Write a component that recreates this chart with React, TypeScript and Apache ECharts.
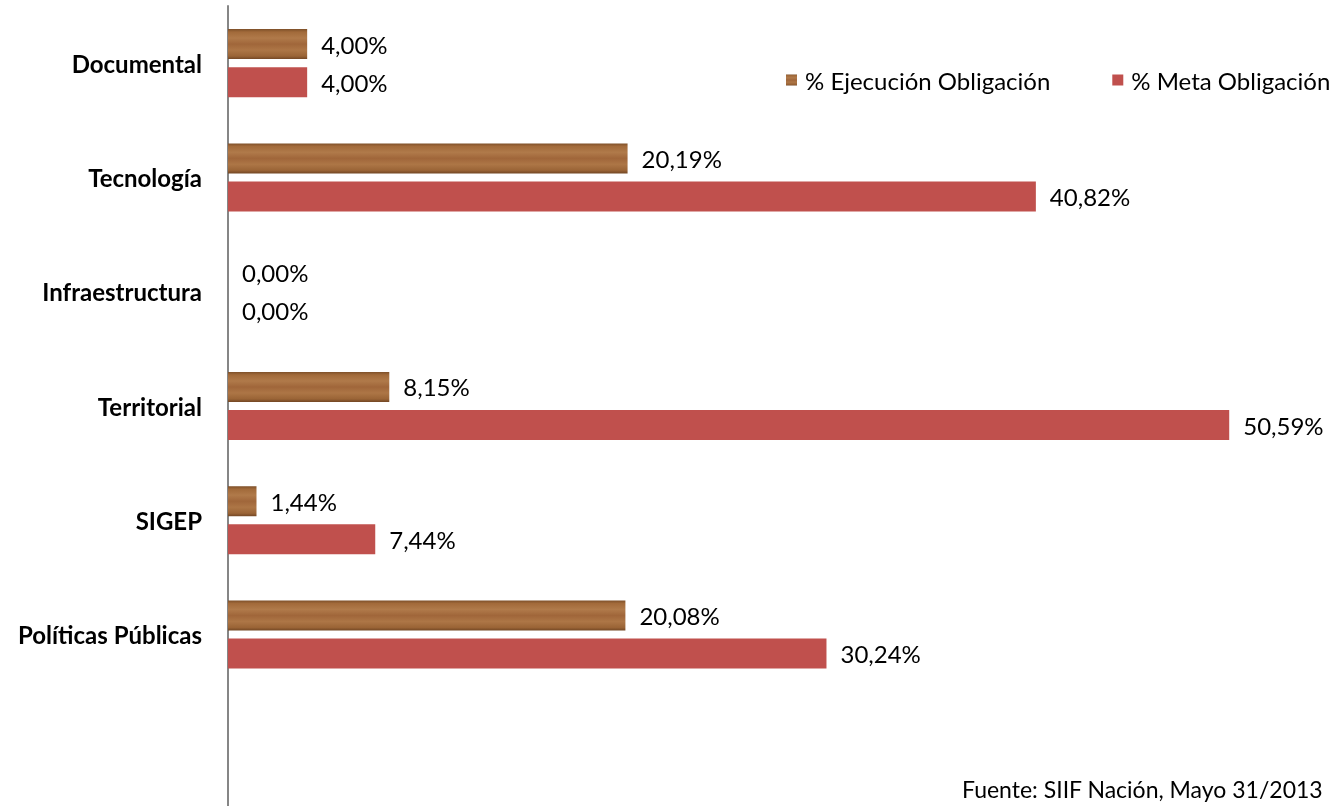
import React, { useEffect, useRef } from "react";
import * as echarts from "echarts";

const categories = ["Documental", "Tecnología", "Infraestructura", "Territorial", "SIGEP", "Políticas Públicas", ""];
const ejecucion = [4.0, 20.19, 0.0, 8.15, 1.44, 20.08, null];
const meta = [4.0, 40.82, 0.0, 50.59, 7.44, 30.24, null];
const seriesNames = ["% Ejecución Obligación", "% Meta Obligación"];
const sourceText = "Fuente: SIIF Nación, Mayo 31/2013";

const fmt = (v: number) => v.toFixed(2).replace(".", ",") + "%";

export default function App() {
  const ref = useRef<HTMLDivElement>(null);
  useEffect(() => {
    if (!ref.current) return;
    const chart = echarts.init(ref.current, undefined, { renderer: "svg" });
    const wood = new echarts.graphic.LinearGradient(0, 0, 0, 1, [
      { offset: 0, color: "#7e5029" },
      { offset: 0.1, color: "#a26a3a" },
      { offset: 0.3, color: "#b07a4a" },
      { offset: 0.5, color: "#a0663a" },
      { offset: 0.7, color: "#ad7646" },
      { offset: 0.9, color: "#9a6436" },
      { offset: 1, color: "#734724" },
    ]);
    const font = "Lato, 'Open Sans', sans-serif";
    const label = {
      show: true,
      position: "right" as const,
      distance: 14,
      color: "#000",
      fontSize: 24,
      fontFamily: font,
      formatter: (p: any) => (p.value == null ? "" : fmt(p.value)),
    };
    chart.setOption({
      animation: false,
      grid: { left: 228, right: 25.5, top: 6, height: 808, containLabel: false },
      legend: {
        data: seriesNames,
        left: 781,
        top: 63,
        itemWidth: 11,
        itemHeight: 11,
        itemGap: 62,
        textStyle: { fontSize: 24, fontFamily: font, color: "#000", padding: [0, 0, 0, 3] },
        icon: "rect",
      },
      xAxis: { type: "value", min: 0, max: 55, show: false },
      yAxis: {
        type: "category",
        data: categories,
        inverse: true,
        axisLine: { show: true, lineStyle: { color: "#868686", width: 2 } },
        axisTick: { show: false },
        axisLabel: { fontSize: 24, fontWeight: "bold", color: "#000", fontFamily: font, margin: 26 },
        splitLine: { show: false },
      },
      series: [
        {
          name: seriesNames[0],
          type: "bar",
          data: ejecucion,
          itemStyle: { color: wood },
          barWidth: 30,
          barGap: "27%",
          label,
        },
        {
          name: seriesNames[1],
          type: "bar",
          data: meta,
          itemStyle: { color: "#c0504d" },
          barWidth: 30,
          label,
        },
      ],
      graphic: [
        {
          type: "text",
          left: 962,
          top: 777,
          style: { text: sourceText, fontSize: 23, fontFamily: font, fill: "#000" },
        },
      ],
    });
    return () => chart.dispose();
  }, []);
  return <div ref={ref} style={{ position: "fixed", left: 0, top: 0, width: 1342, height: 806 }} />;
}
